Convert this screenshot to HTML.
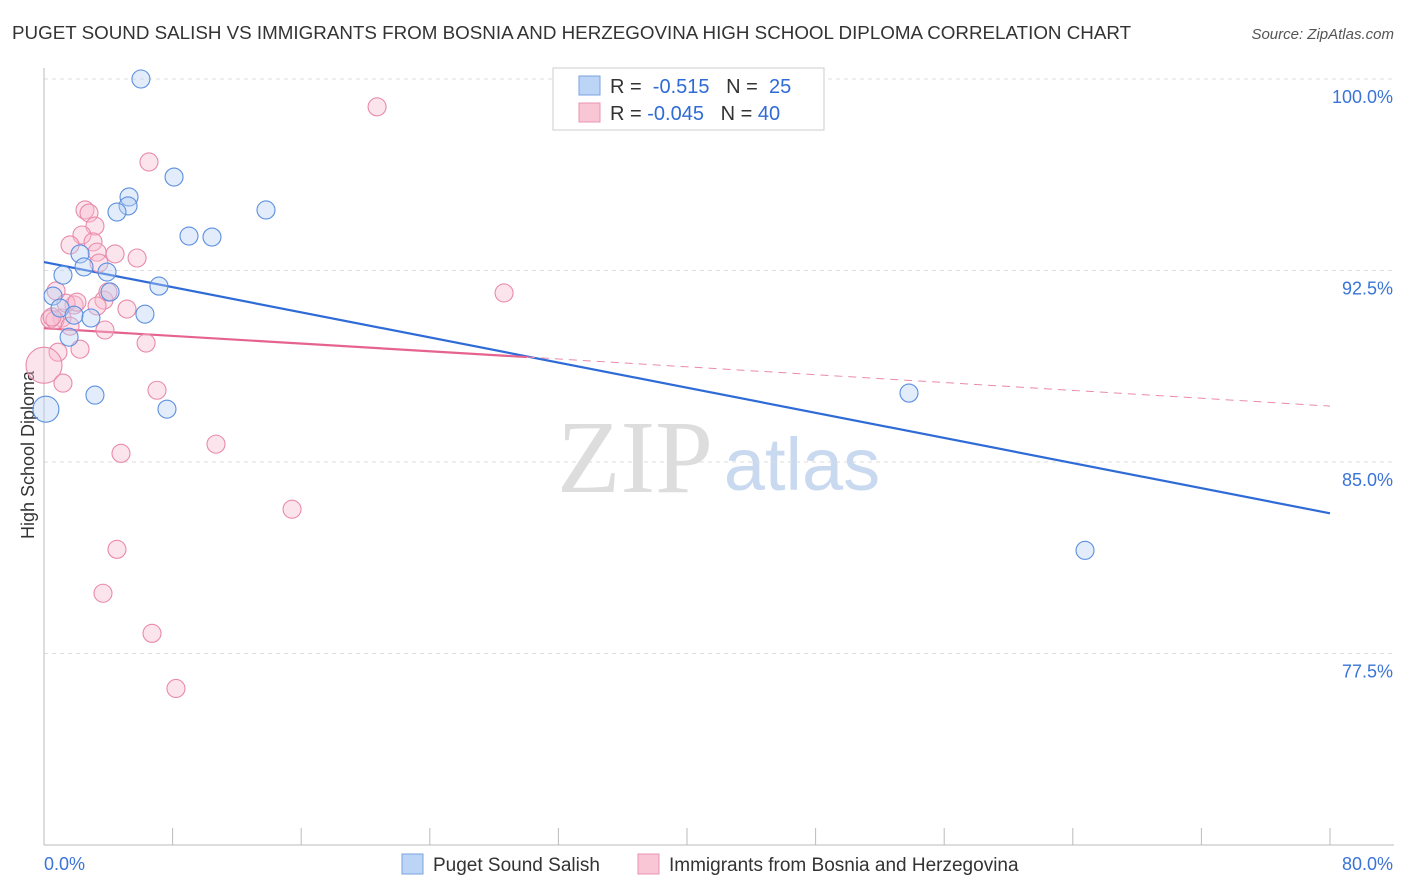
<!DOCTYPE html>
<html><head><meta charset="utf-8"><style>
body{margin:0;background:#fff;font-family:"Liberation Sans",sans-serif;}
svg{display:block}
</style></head><body>
<svg id="chart" width="1406" height="892" xmlns="http://www.w3.org/2000/svg">
<text x="12" y="39" font-size="18.8" fill="#333">PUGET SOUND SALISH VS IMMIGRANTS FROM BOSNIA AND HERZEGOVINA HIGH SCHOOL DIPLOMA CORRELATION CHART</text>
<text x="1394" y="39" font-size="15" fill="#555" text-anchor="end" font-style="italic">Source: ZipAtlas.com</text>
<text x="34" y="455" font-size="18" fill="#333" text-anchor="middle" transform="rotate(-90 34 455)">High School Diploma</text>
<g><text x="635" y="492" font-size="104" fill="#ddd" font-family="Liberation Serif" text-anchor="middle">ZIP</text><text x="802" y="490" font-size="74" fill="#c9d9ef" text-anchor="middle">atlas</text></g>
<g id="grid"></g><g id="axes"></g><g id="trends"></g><g id="pts"></g>
<g>
<rect x="553" y="68" width="271" height="62" fill="#fff" stroke="#ccc"/>
<rect x="579" y="76" width="21" height="19" fill="#bcd4f5" stroke="#7aa3e0"/>
<rect x="579" y="103" width="21" height="19" fill="#f9c6d5" stroke="#eb94b0"/>
<text x="610" y="93" font-size="20" fill="#333">R = <tspan fill="#2f6bd6">&#160;-0.515</tspan>&#160;&#160;&#160;N = <tspan fill="#2f6bd6">&#160;25</tspan></text>
<text x="610" y="120" font-size="20" fill="#333">R = <tspan fill="#2f6bd6">-0.045</tspan>&#160;&#160;&#160;N = <tspan fill="#2f6bd6">40</tspan></text>
</g>
<g>
<rect x="402" y="854" width="21" height="20" fill="#bcd4f5" stroke="#7aa3e0"/>
<text x="433" y="871" font-size="19" fill="#333">Puget Sound Salish</text>
<rect x="638" y="854" width="21" height="20" fill="#f9c6d5" stroke="#eb94b0"/>
<text x="669" y="871" font-size="19" fill="#333">Immigrants from Bosnia and Herzegovina</text>
</g>
</svg>
<script>
const yTicks=[100,92.5,85,77.5];
const yTickLabels=["100.0%","92.5%","85.0%","77.5%"];
const blueX=[6.03,8.09,5.29,5.23,4.54,13.81,9.02,10.45,2.24,1.18,2.49,3.92,0.56,4.11,1.0,1.87,2.92,7.15,6.28,1.56,3.17,7.65,0.12,53.81,64.76];
const blueY=[100.0,96.16,95.38,95.03,94.79,94.87,93.85,93.81,93.15,92.32,92.64,92.44,91.50,91.66,91.03,90.75,90.64,91.89,90.79,89.89,87.62,87.07,87.07,87.70,81.54];
const blueR=[9,9,9,9,9,9,9,9,9,9,9,9,9,9,9,9,9,9,9,9,9,9,13,9,9];
const pinkX=[20.72,6.53,2.55,2.80,3.17,2.36,3.05,1.62,3.30,4.42,5.79,3.42,0.75,3.73,3.30,5.16,1.87,1.12,0.37,0.68,1.62,3.79,6.35,2.24,0.87,0,1.18,7.03,10.70,4.79,28.62,15.43,4.54,3.67,6.72,8.21,3.98,1.37,2.05,0.50];
const pinkY=[98.91,96.75,94.87,94.75,94.24,93.89,93.62,93.50,93.22,93.15,92.99,92.79,91.70,91.34,91.11,90.99,91.15,90.64,90.60,90.56,90.32,90.17,89.66,89.42,89.30,88.79,88.09,87.81,85.70,85.34,91.62,83.15,81.58,79.86,78.29,76.13,91.66,91.22,91.26,90.68];
const pinkR=[9,9,9,9,9,9,9,9,9,9,9,9,9,9,9,9,9,9,9,9,9,9,9,9,9,18,9,9,9,9,9,9,9,9,9,9,9,9,9,9];
const blueTrend=[[0,92.83],[80,82.99]];
const pinkTrend=[[0,90.24],[30.04,89.11],[80,87.19]];
const NS="http://www.w3.org/2000/svg";
const xs=v=>44+v/80*1286, ys=v=>79+(100-v)/7.5*191.5;
function mk(t,a,p){const e=document.createElementNS(NS,t);for(const k in a)e.setAttribute(k,a[k]);document.getElementById(p).appendChild(e);return e;}
yTicks.forEach((t,i)=>{
 const g=mk('line',{x1:44,x2:1394,y1:ys(t),y2:ys(t),stroke:'#ddd','stroke-dasharray':'4 4'},'grid');
 
 
 const l=mk('text',{x:1393,y:ys(t)+24,'font-size':18,fill:'#3a74d6','text-anchor':'end'},'grid');l.textContent=yTickLabels[i];
 
 
});
const ax=mk('line',{x1:44,x2:44,y1:68,y2:845,stroke:'#bbb'},'axes');


const bx=mk('line',{x1:44,x2:1394,y1:845,y2:845,stroke:'#bbb'},'axes');


for(let i=0;i<=10;i++){const t=mk('line',{x1:xs(i*8),x2:xs(i*8),y1:828,y2:845,stroke:'#bbb'},'axes');
 
 }
const x0=mk('text',{x:44,y:870,'font-size':18,fill:'#3a74d6'},'axes');x0.textContent='0.0%';


const x1=mk('text',{x:1393,y:870,'font-size':18,fill:'#3a74d6','text-anchor':'end'},'axes');x1.textContent='80.0%';


function pts(X,Y,R,fill,stroke,name){X.forEach((x,i)=>{const c=mk('circle',{cx:xs(x),cy:ys(Y[i]),r:R[i],fill:fill,'fill-opacity':0.4,stroke:stroke,'stroke-width':1.1},'pts');
 
 });}
pts(pinkX,pinkY,pinkR,'#f7bcd0','#e98aaa','pink-point');
pts(blueX,blueY,blueR,'#b6d0f3','#5b8fe0','blue-point');
const bl=mk('line',{x1:xs(blueTrend[0][0]),y1:ys(blueTrend[0][1]),x2:xs(blueTrend[1][0]),y2:ys(blueTrend[1][1]),stroke:'#2f6bd6','stroke-width':2.2},'trends');


const pl=mk('line',{x1:xs(pinkTrend[0][0]),y1:ys(pinkTrend[0][1]),x2:xs(pinkTrend[1][0]),y2:ys(pinkTrend[1][1]),stroke:'#e5638e','stroke-width':2.2},'trends');


const pd=mk('line',{x1:xs(pinkTrend[1][0]),y1:ys(pinkTrend[1][1]),x2:xs(pinkTrend[2][0]),y2:ys(pinkTrend[2][1]),stroke:'#e98aaa','stroke-width':1,'stroke-dasharray':'8 6'},'trends');


</script>
</body></html>
